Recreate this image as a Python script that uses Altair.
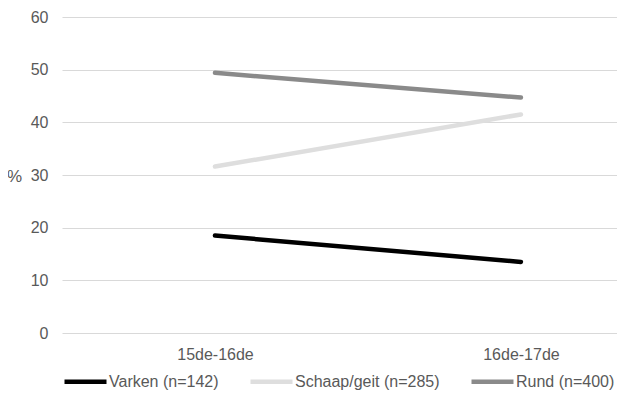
import altair as alt
import pandas as pd

periods = ["15de-16de", "16de-17de"]
series = ["Varken (n=142)", "Schaap/geit (n=285)", "Rund (n=400)"]
varken = [18.5, 13.5]
schaap = [31.6, 41.5]
rund = [49.4, 44.7]
colors = ["#000000", "#dedede", "#8a8a8a"]

rows = []
for name, vals in zip(series, [varken, schaap, rund]):
    for i, (p, v) in enumerate(zip(periods, vals)):
        rows.append({"serie": name, "periode": p, "idx": i, "pct": v})
df = pd.DataFrame(rows)

label_expr = " : ".join(
    [f"datum.value == {i} ? '{p}'" for i, p in enumerate(periods)] + ["''"]
)

FONT = "Liberation Sans"
GRAY = "#595959"

chart = (
    alt.Chart(df)
    .mark_line(strokeWidth=4.5, strokeCap="round")
    .encode(
        x=alt.X(
            "idx:Q",
            scale=alt.Scale(domain=[-0.5, 1.314], nice=False, zero=False),
            axis=alt.Axis(
                values=list(range(len(periods))),
                labelExpr=label_expr,
                title=None,
                grid=False,
                domain=False,
                ticks=False,
                labelPadding=13,
                labelFontSize=16,
                labelColor=GRAY,
                labelFont=FONT,
            ),
        ),
        y=alt.Y(
            "pct:Q",
            scale=alt.Scale(domain=[0, 60], nice=False),
            axis=alt.Axis(
                values=[0, 10, 20, 30, 40, 50, 60],
                title="%",
                titleAngle=0,
                titleX=-48,
                titleY=159,
                titleAlign="center",
                titleBaseline="middle",
                titleFontSize=17,
                titleFontWeight="normal",
                titleColor=GRAY,
                titleFont=FONT,
                domain=False,
                ticks=False,
                labelPadding=14,
                labelFontSize=16,
                labelColor=GRAY,
                labelFont=FONT,
                gridColor="#d9d9d9",
                gridWidth=1,
            ),
        ),
        color=alt.Color(
            "serie:N",
            scale=alt.Scale(domain=series, range=colors),
            legend=alt.Legend(
                title=None,
                orient="none",
                legendX=0,
                legendY=341,
                direction="horizontal",
                columns=3,
                symbolType="stroke",
                symbolSize=1764,
                symbolStrokeWidth=4.5,
                labelOffset=0,
                columnPadding=22,
                padding=0,
                labelFontSize=16,
                labelColor=GRAY,
                labelFont=FONT,
                labelLimit=300,
            ),
        ),
        detail="serie:N",
    )
    .properties(
        width=555,
        height=316,
        autosize=alt.AutoSizeParams(type="none"),
        padding={"left": 54, "top": 9, "right": 0, "bottom": 60},
    )
    .configure_view(stroke=None)
)

chart.save("out.html", embed_options={"renderer": "svg", "actions": False})
